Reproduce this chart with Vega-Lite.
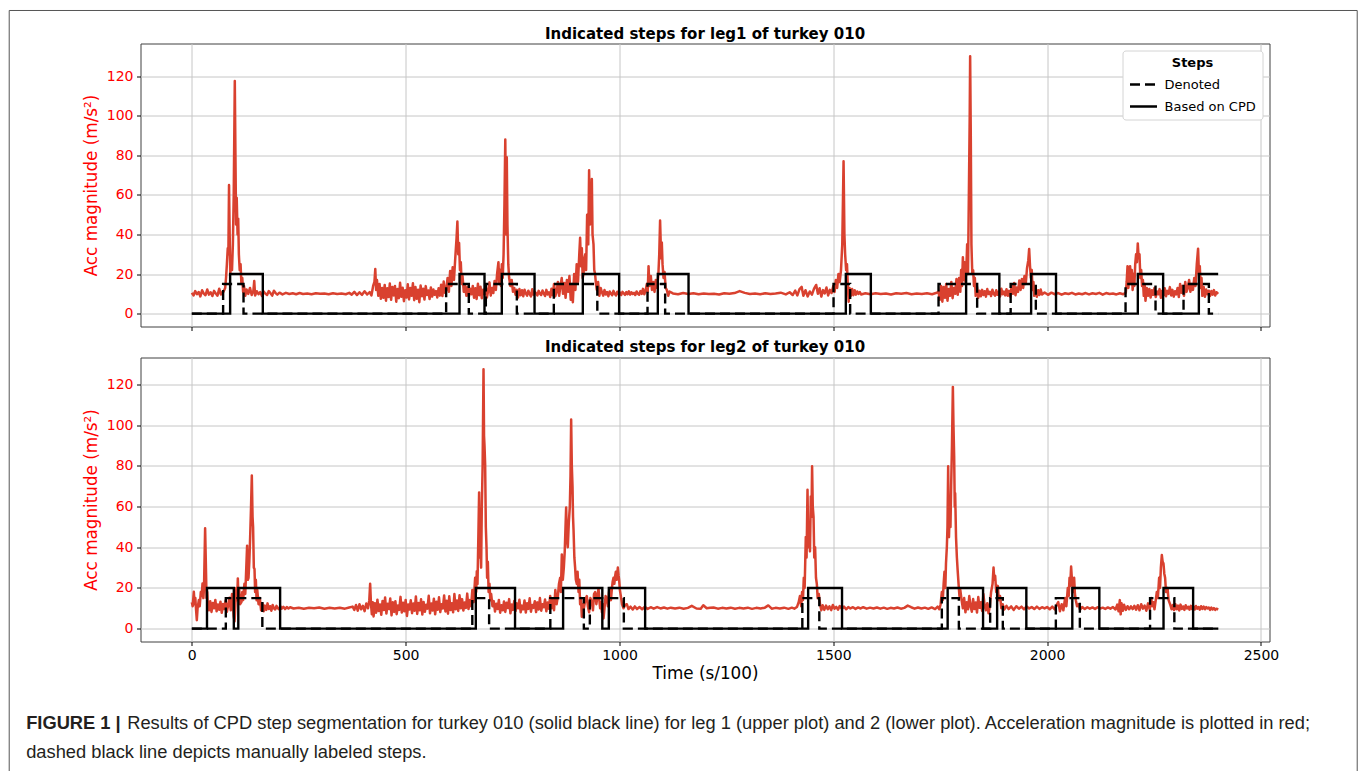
{
  "$schema": "https://vega.github.io/schema/vega-lite/v6.json",
  "background": "white",
  "padding": {"left": 7.5, "top": 8.5, "right": 0, "bottom": 0},
  "autosize": {"type": "pad"},
  "bounds": "flush",
  "spacing": 31,
  "datasets": {
    "leg1_steps": [
      {"series": "Based on CPD", "time": 0, "value": 0},
      {"series": "Based on CPD", "time": 89.6, "value": 20},
      {"series": "Based on CPD", "time": 166, "value": 0},
      {"series": "Based on CPD", "time": 626, "value": 20},
      {"series": "Based on CPD", "time": 684.4, "value": 0},
      {"series": "Based on CPD", "time": 724.9, "value": 20},
      {"series": "Based on CPD", "time": 801.4, "value": 0},
      {"series": "Based on CPD", "time": 914.3, "value": 20},
      {"series": "Based on CPD", "time": 999.2, "value": 0},
      {"series": "Based on CPD", "time": 1089.7, "value": 20},
      {"series": "Based on CPD", "time": 1161.5, "value": 0},
      {"series": "Based on CPD", "time": 1529.3, "value": 20},
      {"series": "Based on CPD", "time": 1587.8, "value": 0},
      {"series": "Based on CPD", "time": 1810.6, "value": 20},
      {"series": "Based on CPD", "time": 1888.3, "value": 0},
      {"series": "Based on CPD", "time": 1962.6, "value": 20},
      {"series": "Based on CPD", "time": 2020.8, "value": 0},
      {"series": "Based on CPD", "time": 2212.1, "value": 20},
      {"series": "Based on CPD", "time": 2271.3, "value": 0},
      {"series": "Based on CPD", "time": 2354.8, "value": 20},
      {"series": "Based on CPD", "time": 2400, "value": 20},
      {"series": "Denoted", "time": 0, "value": 0},
      {"series": "Denoted", "time": 73.2, "value": 15},
      {"series": "Denoted", "time": 120.9, "value": 0},
      {"series": "Denoted", "time": 594.7, "value": 15},
      {"series": "Denoted", "time": 647.7, "value": 0},
      {"series": "Denoted", "time": 687.5, "value": 15},
      {"series": "Denoted", "time": 760, "value": 0},
      {"series": "Denoted", "time": 846.5, "value": 15},
      {"series": "Denoted", "time": 948.2, "value": 0},
      {"series": "Denoted", "time": 1065.6, "value": 15},
      {"series": "Denoted", "time": 1106.8, "value": 0},
      {"series": "Denoted", "time": 1500.6, "value": 15},
      {"series": "Denoted", "time": 1539.4, "value": 0},
      {"series": "Denoted", "time": 1746.1, "value": 15},
      {"series": "Denoted", "time": 1836.4, "value": 0},
      {"series": "Denoted", "time": 1914.7, "value": 15},
      {"series": "Denoted", "time": 1973.6, "value": 0},
      {"series": "Denoted", "time": 2183.4, "value": 15},
      {"series": "Denoted", "time": 2253.5, "value": 0},
      {"series": "Denoted", "time": 2319, "value": 15},
      {"series": "Denoted", "time": 2378.2, "value": 0},
      {"series": "Denoted", "time": 2400, "value": 0}
    ],
    "leg2_steps": [
      {"series": "Based on CPD", "time": 0, "value": 0},
      {"series": "Based on CPD", "time": 35.5, "value": 20},
      {"series": "Based on CPD", "time": 98.2, "value": 0},
      {"series": "Based on CPD", "time": 108.7, "value": 20},
      {"series": "Based on CPD", "time": 206.5, "value": 0},
      {"series": "Based on CPD", "time": 664.1, "value": 20},
      {"series": "Based on CPD", "time": 755.8, "value": 0},
      {"series": "Based on CPD", "time": 868.2, "value": 20},
      {"series": "Based on CPD", "time": 959.9, "value": 0},
      {"series": "Based on CPD", "time": 975.1, "value": 20},
      {"series": "Based on CPD", "time": 1060, "value": 0},
      {"series": "Based on CPD", "time": 1441.2, "value": 20},
      {"series": "Based on CPD", "time": 1520.4, "value": 0},
      {"series": "Based on CPD", "time": 1767.4, "value": 20},
      {"series": "Based on CPD", "time": 1850.2, "value": 0},
      {"series": "Based on CPD", "time": 1883.1, "value": 20},
      {"series": "Based on CPD", "time": 1951.4, "value": 0},
      {"series": "Based on CPD", "time": 2058.9, "value": 20},
      {"series": "Based on CPD", "time": 2122.1, "value": 0},
      {"series": "Based on CPD", "time": 2272.2, "value": 20},
      {"series": "Based on CPD", "time": 2341.4, "value": 0},
      {"series": "Based on CPD", "time": 2400, "value": 0},
      {"series": "Denoted", "time": 0, "value": 0},
      {"series": "Denoted", "time": 79.5, "value": 15},
      {"series": "Denoted", "time": 164.9, "value": 0},
      {"series": "Denoted", "time": 655.9, "value": 15},
      {"series": "Denoted", "time": 695.2, "value": 0},
      {"series": "Denoted", "time": 838.3, "value": 15},
      {"series": "Denoted", "time": 916.7, "value": 0},
      {"series": "Denoted", "time": 930.7, "value": 15},
      {"series": "Denoted", "time": 1010.2, "value": 0},
      {"series": "Denoted", "time": 1427.6, "value": 15},
      {"series": "Denoted", "time": 1467.3, "value": 0},
      {"series": "Denoted", "time": 1753.8, "value": 15},
      {"series": "Denoted", "time": 1793.6, "value": 0},
      {"series": "Denoted", "time": 1866.8, "value": 15},
      {"series": "Denoted", "time": 1896.4, "value": 0},
      {"series": "Denoted", "time": 2020.4, "value": 15},
      {"series": "Denoted", "time": 2076.5, "value": 0},
      {"series": "Denoted", "time": 2240.7, "value": 15},
      {"series": "Denoted", "time": 2297.5, "value": 0},
      {"series": "Denoted", "time": 2400, "value": 0}
    ],
    "leg1_acc": [
      {"time":0,"acc":10.5},{"time":4,"acc":9.2},{"time":8,"acc":11.4},{"time":12,"acc":9.8},{"time":16,"acc":10.9},{"time":20,"acc":8.7},{"time":24,"acc":11.8},{"time":28,"acc":10.1},{"time":32,"acc":9.3},{"time":36,"acc":12.2},{"time":40,"acc":9.6},{"time":44,"acc":10.8},{"time":48,"acc":8.9},{"time":52,"acc":11.5},{"time":56,"acc":10.2},{"time":60,"acc":9.1},{"time":64,"acc":12.6},{"time":68,"acc":9.7},{"time":72,"acc":10.9},
      {"time":74,"acc":11},{"time":78,"acc":13},{"time":80,"acc":18},{"time":82,"acc":25},{"time":84,"acc":33},{"time":85.5,"acc":30},{"time":87,"acc":65},{"time":88.5,"acc":40},{"time":90,"acc":20},{"time":92,"acc":28},{"time":94,"acc":22},{"time":96,"acc":35},{"time":98,"acc":60},{"time":100.5,"acc":117.5},{"time":102,"acc":80},{"time":103.5,"acc":45},{"time":105,"acc":58.5},{"time":107,"acc":40},{"time":108.5,"acc":48},{"time":110,"acc":30},{"time":112,"acc":22},{"time":114,"acc":25},{"time":116,"acc":15},{"time":118,"acc":18},{"time":120,"acc":11},{"time":122,"acc":14},
      {"time":125,"acc":9},{"time":128,"acc":12.2},{"time":132,"acc":10},{"time":136,"acc":13},{"time":140,"acc":9.4},{"time":144,"acc":11.6},{"time":146,"acc":16.5},{"time":148,"acc":9.2},{"time":152,"acc":11.3},{"time":156,"acc":9.8},{"time":160,"acc":10.9},{"time":164,"acc":8.9},{"time":168,"acc":11.2},{"time":172,"acc":10.1},{"time":176,"acc":9.4},{"time":180,"acc":11.4},{"time":184,"acc":10.3},{"time":188,"acc":9.1},{"time":192,"acc":11.6},{"time":196,"acc":10.4},{"time":200,"acc":9.6},
      {"time":205,"acc":10.6},{"time":212,"acc":9.7},{"time":220,"acc":10.5},{"time":228,"acc":9.9},{"time":236,"acc":10.3},{"time":244,"acc":9.8},{"time":252,"acc":10.4},{"time":260,"acc":9.9},{"time":270,"acc":10.2},{"time":280,"acc":9.8},{"time":290,"acc":10.3},{"time":300,"acc":10},{"time":310,"acc":10.2},{"time":320,"acc":9.8},{"time":330,"acc":10.3},{"time":340,"acc":9.9},{"time":350,"acc":10.2},{"time":360,"acc":9.8},{"time":368,"acc":10.5},{"time":374,"acc":9.6},{"time":380,"acc":11},{"time":386,"acc":9.4},{"time":392,"acc":10.8},{"time":398,"acc":9.5},{"time":404,"acc":11.3},{"time":410,"acc":9.7},{"time":416,"acc":10.9},{"time":420,"acc":9.2},{"time":424,"acc":14},{"time":427,"acc":16},{"time":429,"acc":22.5},{"time":431,"acc":12},{"time":433,"acc":17},{"time":436,"acc":9},{"time":439,"acc":15},{"time":442,"acc":7.5},{"time":445,"acc":13},
      {"time":448,"acc":8},{"time":451,"acc":14.5},{"time":454,"acc":6.5},{"time":457,"acc":12.8},{"time":460,"acc":8.4},{"time":463,"acc":15.2},{"time":466,"acc":7},{"time":469,"acc":13.5},{"time":472,"acc":9.2},{"time":475,"acc":14},{"time":478,"acc":6},{"time":481,"acc":12.4},{"time":484,"acc":7.8},{"time":487,"acc":15.6},{"time":490,"acc":8.5},{"time":493,"acc":13.1},{"time":496,"acc":6.3},{"time":499,"acc":11.8},{"time":502,"acc":8.1},{"time":505,"acc":14.8},{"time":508,"acc":7.2},{"time":511,"acc":12.9},{"time":514,"acc":9},{"time":517,"acc":15.3},{"time":520,"acc":6.8},{"time":523,"acc":13.4},{"time":526,"acc":7.5},{"time":529,"acc":12.1},{"time":532,"acc":5.8},{"time":535,"acc":14.2},{"time":538,"acc":8.8},{"time":541,"acc":12.6},{"time":544,"acc":7.1},{"time":547,"acc":13.9},{"time":550,"acc":9.4},{"time":553,"acc":11.7},{"time":556,"acc":7.4},{"time":559,"acc":13.2},{"time":562,"acc":8.6},{"time":565,"acc":12.2},{"time":568,"acc":9.5},{"time":571,"acc":11.4},{"time":574,"acc":8.2},{"time":577,"acc":12.8},{"time":580,"acc":9.1},{"time":583,"acc":14.6},{"time":586,"acc":8.9},{"time":589,"acc":16.2},{"time":592,"acc":10.5},
      {"time":595,"acc":12},{"time":598,"acc":18},{"time":601,"acc":11},{"time":604,"acc":21.5},{"time":607,"acc":14},{"time":610,"acc":23.5},{"time":613,"acc":17},{"time":616,"acc":28},{"time":619,"acc":38},{"time":621,"acc":46.5},{"time":623,"acc":30},{"time":625,"acc":35.7},{"time":627,"acc":22},{"time":629,"acc":26},{"time":631,"acc":15},{"time":633,"acc":19},{"time":636,"acc":11},{"time":639,"acc":14},{"time":642,"acc":9},{"time":645,"acc":13.5},{"time":648,"acc":8.5},{"time":651,"acc":12.6},{"time":654,"acc":9.8},
      {"time":657,"acc":14},{"time":660,"acc":8},{"time":663,"acc":12.8},{"time":666,"acc":7.4},{"time":669,"acc":15.1},{"time":672,"acc":9.3},{"time":675,"acc":13.6},{"time":678,"acc":7.8},{"time":681,"acc":12.1},{"time":684,"acc":9.9},{"time":687,"acc":14.7},{"time":690,"acc":8.2},{"time":693,"acc":11.5},{"time":696,"acc":15.8},{"time":699,"acc":9.1},{"time":702,"acc":13},{"time":705,"acc":10.4},{"time":708,"acc":16.5},{"time":711,"acc":12},{"time":714,"acc":20.5},{"time":717,"acc":26},{"time":719,"acc":15},{"time":721,"acc":22},{"time":723,"acc":14},{"time":725,"acc":25},{"time":727,"acc":18},
      {"time":729,"acc":30},{"time":731,"acc":55},{"time":733,"acc":88},{"time":735,"acc":40},{"time":736.5,"acc":79},{"time":738,"acc":45},{"time":740,"acc":25},{"time":742,"acc":18},{"time":745,"acc":14},{"time":748,"acc":17},{"time":751,"acc":11},{"time":754,"acc":13},{"time":757,"acc":9.5},{"time":760,"acc":12},
      {"time":763,"acc":8.2},{"time":766,"acc":12.4},{"time":769,"acc":9.3},{"time":772,"acc":11.8},{"time":775,"acc":8.8},{"time":778,"acc":12.1},{"time":781,"acc":10.2},{"time":784,"acc":9.1},{"time":787,"acc":11.6},{"time":790,"acc":10},{"time":793,"acc":8.7},{"time":796,"acc":12.3},{"time":799,"acc":9.6},{"time":802,"acc":11.1},{"time":805,"acc":10.3},{"time":808,"acc":9.2},{"time":811,"acc":11.5},{"time":814,"acc":10.1},{"time":817,"acc":9.4},{"time":820,"acc":11.7},{"time":823,"acc":10.2},{"time":826,"acc":8.9},{"time":829,"acc":12},{"time":832,"acc":9.7},{"time":835,"acc":10.8},{"time":838,"acc":8.4},{"time":841,"acc":12.6},{"time":844,"acc":9.3},{"time":847,"acc":15},{"time":850,"acc":8.8},
      {"time":853,"acc":11},{"time":856,"acc":16},{"time":859,"acc":9},{"time":862,"acc":14},{"time":865,"acc":18},{"time":868,"acc":10},{"time":871,"acc":15.5},{"time":874,"acc":8},{"time":877,"acc":17},{"time":880,"acc":11},{"time":883,"acc":19},{"time":886,"acc":7},{"time":889,"acc":15},{"time":891,"acc":5.8},{"time":894,"acc":20},{"time":897,"acc":12},{"time":900,"acc":25},{"time":903,"acc":16},{"time":906,"acc":30},{"time":908,"acc":38.3},{"time":910,"acc":24},{"time":912,"acc":33},{"time":914,"acc":18},{"time":916,"acc":20},{"time":918,"acc":28},{"time":920,"acc":30},{"time":922,"acc":22},{"time":924.4,"acc":50},{"time":927,"acc":35},{"time":929,"acc":72.5},{"time":931,"acc":45},{"time":932.3,"acc":55},{"time":934,"acc":48},{"time":935.4,"acc":68},{"time":937,"acc":40},{"time":939.3,"acc":35},{"time":941,"acc":22},{"time":943,"acc":20},{"time":945,"acc":15},{"time":947,"acc":12},{"time":950,"acc":16},{"time":953,"acc":9},{"time":956,"acc":13},
      {"time":959,"acc":10.8},{"time":962,"acc":9.1},{"time":965,"acc":11.9},{"time":968,"acc":9.7},{"time":971,"acc":10.9},{"time":974,"acc":8.8},{"time":977,"acc":11.2},{"time":980,"acc":10.1},{"time":983,"acc":9.3},{"time":986,"acc":11.5},{"time":989,"acc":10},{"time":992,"acc":9.2},{"time":995,"acc":11.1},{"time":998,"acc":9.9},{"time":1001,"acc":10.7},{"time":1004,"acc":9.4},{"time":1007,"acc":11},{"time":1010,"acc":10.2},{"time":1013,"acc":9.5},{"time":1016,"acc":10.9},{"time":1019,"acc":9.8},{"time":1022,"acc":11.3},{"time":1025,"acc":9.6},{"time":1028,"acc":10.8},{"time":1031,"acc":9.9},{"time":1034,"acc":10.5},{"time":1037,"acc":9.4},{"time":1040,"acc":11.2},{"time":1043,"acc":10.1},{"time":1046,"acc":9.6},{"time":1049,"acc":11.4},{"time":1052,"acc":10},{"time":1055,"acc":12.5},{"time":1058,"acc":9.8},
      {"time":1061,"acc":11.5},{"time":1064,"acc":15},{"time":1066,"acc":11},{"time":1068,"acc":24},{"time":1070,"acc":14},{"time":1073.3,"acc":19},{"time":1076,"acc":12},{"time":1079,"acc":16},{"time":1082,"acc":11},{"time":1085,"acc":17},{"time":1088,"acc":13},{"time":1091,"acc":20},{"time":1093,"acc":30},{"time":1095,"acc":47},{"time":1097.4,"acc":28},{"time":1099,"acc":36},{"time":1100.7,"acc":25},{"time":1103,"acc":18},{"time":1105.4,"acc":21},{"time":1108,"acc":13},{"time":1110.7,"acc":12},{"time":1114,"acc":9},{"time":1117,"acc":11.2},
      {"time":1125,"acc":10.2},{"time":1137,"acc":9.8},{"time":1149,"acc":10.4},{"time":1161,"acc":9.9},{"time":1173,"acc":10.3},{"time":1185,"acc":9.8},{"time":1197,"acc":10.2},{"time":1209,"acc":9.9},{"time":1221,"acc":10.1},{"time":1233,"acc":9.7},{"time":1245,"acc":10.3},{"time":1257,"acc":10},{"time":1269,"acc":10.4},{"time":1281,"acc":11.4},{"time":1293,"acc":10.5},{"time":1305,"acc":9.9},{"time":1317,"acc":10.2},{"time":1329,"acc":9.8},{"time":1341,"acc":10.3},{"time":1353,"acc":9.9},{"time":1365,"acc":10.2},
      {"time":1377,"acc":10.6},{"time":1389,"acc":9.7},{"time":1398,"acc":10.8},{"time":1405,"acc":9.4},{"time":1411,"acc":11.6},{"time":1416,"acc":9.2},{"time":1421,"acc":12.4},{"time":1426,"acc":13.5},{"time":1430,"acc":9},{"time":1435,"acc":11.8},{"time":1440,"acc":8.7},{"time":1445,"acc":11.2},{"time":1450,"acc":9.6},{"time":1455,"acc":12.6},{"time":1460,"acc":14.5},{"time":1464,"acc":10},{"time":1468,"acc":12.8},{"time":1472,"acc":8.6},{"time":1476,"acc":11.9},{"time":1480,"acc":10.2},{"time":1484,"acc":13.2},{"time":1488,"acc":9.2},{"time":1492,"acc":12},{"time":1496,"acc":10.4},{"time":1500,"acc":14},{"time":1503,"acc":11},{"time":1506,"acc":17},{"time":1509,"acc":13},{"time":1512,"acc":20},
      {"time":1515,"acc":16},{"time":1518,"acc":22},{"time":1521,"acc":35},{"time":1524,"acc":77},{"time":1526,"acc":40},{"time":1527.7,"acc":30},{"time":1530,"acc":22},{"time":1532,"acc":25},{"time":1534,"acc":14},{"time":1536,"acc":6},{"time":1538,"acc":13},{"time":1541,"acc":9},{"time":1544,"acc":12.5},{"time":1547,"acc":9.3},{"time":1550,"acc":11.8},{"time":1553,"acc":9.6},{"time":1556,"acc":11.2},{"time":1559,"acc":10},{"time":1562,"acc":10.9},{"time":1565,"acc":9.7},
      {"time":1575,"acc":10.3},{"time":1587,"acc":9.8},{"time":1599,"acc":10.3},{"time":1611,"acc":9.9},{"time":1623,"acc":10.2},{"time":1635,"acc":9.7},{"time":1647,"acc":10.3},{"time":1659,"acc":10},{"time":1671,"acc":10.4},{"time":1683,"acc":9.8},{"time":1695,"acc":10.2},{"time":1707,"acc":9.9},{"time":1719,"acc":10.3},{"time":1731,"acc":9.8},{"time":1740,"acc":10.4},
      {"time":1746,"acc":11},{"time":1749,"acc":7},{"time":1752,"acc":14},{"time":1755,"acc":6},{"time":1758,"acc":13.5},{"time":1761,"acc":8},{"time":1764,"acc":15},{"time":1767,"acc":6.5},{"time":1770,"acc":12.5},{"time":1773,"acc":9},{"time":1776,"acc":16},{"time":1779,"acc":7.8},{"time":1782,"acc":13},{"time":1785,"acc":10},{"time":1788,"acc":17.5},{"time":1791,"acc":9.5},{"time":1794,"acc":18},{"time":1797,"acc":11},{"time":1799,"acc":22},{"time":1801,"acc":14},{"time":1803,"acc":28.5},{"time":1805,"acc":17},{"time":1807,"acc":26},{"time":1809,"acc":16},{"time":1811,"acc":22},{"time":1813,"acc":35},{"time":1815,"acc":20},{"time":1817,"acc":60},{"time":1819,"acc":100},{"time":1820,"acc":130},{"time":1821.5,"acc":90},{"time":1823,"acc":35},{"time":1825,"acc":20},{"time":1827,"acc":22},{"time":1829,"acc":14},{"time":1831,"acc":18},{"time":1833,"acc":9},{"time":1836,"acc":13.5},{"time":1839,"acc":8},
      {"time":1842,"acc":11.6},{"time":1845,"acc":8.8},{"time":1848,"acc":12},{"time":1851,"acc":9.4},{"time":1854,"acc":11.3},{"time":1857,"acc":8.6},{"time":1860,"acc":12.4},{"time":1863,"acc":9.9},{"time":1866,"acc":11},{"time":1869,"acc":8.9},{"time":1872,"acc":12.1},{"time":1875,"acc":10},{"time":1878,"acc":9.1},{"time":1881,"acc":11.8},{"time":1884,"acc":9.5},{"time":1887,"acc":11.2},{"time":1890,"acc":8.7},{"time":1893,"acc":12.6},{"time":1896,"acc":9.8},{"time":1899,"acc":11.1},{"time":1902,"acc":9.2},{"time":1905,"acc":12.3},{"time":1908,"acc":9},{"time":1911,"acc":11.5},{"time":1914,"acc":8.5},{"time":1917,"acc":14},{"time":1920,"acc":10},{"time":1923,"acc":15.5},{"time":1926,"acc":9.3},{"time":1929,"acc":13.2},{"time":1932,"acc":11},{"time":1935,"acc":16.8},{"time":1938,"acc":12},{"time":1941,"acc":17.5},{"time":1944,"acc":13},{"time":1947,"acc":19},{"time":1950,"acc":15},{"time":1953,"acc":23},{"time":1956,"acc":27},{"time":1958,"acc":32.7},{"time":1960,"acc":24},{"time":1962,"acc":18},{"time":1964,"acc":22},{"time":1966,"acc":12},{"time":1968,"acc":16},{"time":1970,"acc":9},{"time":1973,"acc":13},{"time":1976,"acc":8.5},{"time":1979,"acc":11.8},{"time":1982,"acc":9.4},{"time":1985,"acc":12.2},{"time":1988,"acc":9.7},
      {"time":1994,"acc":10.7},{"time":2002,"acc":9.5},{"time":2010,"acc":10.6},{"time":2018,"acc":9.8},{"time":2026,"acc":10.4},{"time":2034,"acc":9.6},{"time":2042,"acc":10.3},{"time":2050,"acc":9.9},{"time":2058,"acc":10.5},{"time":2066,"acc":9.7},{"time":2074,"acc":10.2},{"time":2082,"acc":9.8},{"time":2090,"acc":10.4},{"time":2098,"acc":9.7},{"time":2106,"acc":10.3},{"time":2114,"acc":9.9},{"time":2122,"acc":10.5},{"time":2130,"acc":9.6},{"time":2138,"acc":10.4},{"time":2146,"acc":9.9},{"time":2154,"acc":10.2},{"time":2162,"acc":9.7},{"time":2170,"acc":10.3},{"time":2178,"acc":9.8},
      {"time":2184,"acc":10.6},{"time":2186,"acc":16},{"time":2188,"acc":24},{"time":2190,"acc":13},{"time":2192,"acc":20},{"time":2194,"acc":24},{"time":2196,"acc":15},{"time":2198,"acc":22},{"time":2200,"acc":12},{"time":2202,"acc":20},{"time":2204,"acc":14},{"time":2206,"acc":25},{"time":2208,"acc":30},{"time":2210,"acc":26},{"time":2212,"acc":35.5},{"time":2214,"acc":28},{"time":2216,"acc":30},{"time":2218,"acc":18},{"time":2220,"acc":22},{"time":2222,"acc":14},{"time":2224,"acc":17},{"time":2226,"acc":9},{"time":2228,"acc":15},{"time":2230,"acc":6.5},{"time":2233,"acc":13},
      {"time":2236,"acc":9},{"time":2239,"acc":12.5},{"time":2242,"acc":8.1},{"time":2245,"acc":11.8},{"time":2248,"acc":9.5},{"time":2251,"acc":13},{"time":2254,"acc":8.4},{"time":2257,"acc":11.2},{"time":2260,"acc":9.8},{"time":2263,"acc":12.4},{"time":2266,"acc":8},{"time":2269,"acc":11.6},{"time":2272,"acc":9.3},{"time":2275,"acc":12.8},{"time":2278,"acc":8.8},{"time":2281,"acc":11.5},{"time":2284,"acc":10},{"time":2287,"acc":13.4},{"time":2290,"acc":9.2},{"time":2293,"acc":12},{"time":2296,"acc":8.6},{"time":2299,"acc":11.3},{"time":2302,"acc":9.7},{"time":2305,"acc":13},{"time":2308,"acc":8.4},{"time":2311,"acc":15},{"time":2314,"acc":10.5},{"time":2317,"acc":14},{"time":2320,"acc":9},{"time":2323,"acc":16},{"time":2326,"acc":11},
      {"time":2329,"acc":13},{"time":2332,"acc":17},{"time":2335,"acc":11},{"time":2338,"acc":15},{"time":2341,"acc":12},{"time":2344,"acc":18},{"time":2347,"acc":14},{"time":2350,"acc":25},{"time":2353,"acc":32.8},{"time":2355,"acc":20},{"time":2357,"acc":24},{"time":2359,"acc":13},{"time":2361,"acc":18},{"time":2363,"acc":9},{"time":2366,"acc":13.5},{"time":2369,"acc":8.5},{"time":2372,"acc":12.2},{"time":2375,"acc":9.8},{"time":2378,"acc":11.6},{"time":2381,"acc":8.9},{"time":2384,"acc":11.4},{"time":2387,"acc":9.6},{"time":2390,"acc":11.9},{"time":2393,"acc":9.2},{"time":2396,"acc":10.8},{"time":2400,"acc":10}
    ],
    "leg2_acc": [
      {"time":0,"acc":13},{"time":2,"acc":11},{"time":4.7,"acc":18.1},{"time":6.5,"acc":12},{"time":8.2,"acc":15},{"time":10,"acc":9},{"time":11.7,"acc":4.1},{"time":13.5,"acc":10},{"time":16.4,"acc":14},{"time":18.5,"acc":11},{"time":21,"acc":18},{"time":23,"acc":16},{"time":25,"acc":22.2},{"time":27,"acc":15},{"time":28.5,"acc":20},{"time":31.1,"acc":49.4},{"time":33,"acc":30},{"time":34.4,"acc":15},{"time":36,"acc":18},{"time":37.4,"acc":12},
      {"time":40,"acc":9},{"time":43,"acc":13.5},{"time":46,"acc":8.2},{"time":49,"acc":12.6},{"time":52,"acc":10},{"time":55,"acc":14.1},{"time":58,"acc":8.5},{"time":61,"acc":11.8},{"time":64,"acc":9.3},{"time":67,"acc":13.2},{"time":70,"acc":7.8},{"time":73,"acc":12.1},{"time":76,"acc":9.6},{"time":79,"acc":13.8},{"time":82,"acc":8.3},{"time":85,"acc":11.5},{"time":88,"acc":15.2},{"time":91,"acc":9},{"time":94,"acc":17},{"time":96,"acc":12},
      {"time":98,"acc":6},{"time":100,"acc":3.5},{"time":102,"acc":12},{"time":104,"acc":20},{"time":106,"acc":14},{"time":107.6,"acc":24.7},{"time":109,"acc":16},{"time":111,"acc":19},{"time":113,"acc":12},
      {"time":116,"acc":13},{"time":118,"acc":18},{"time":120,"acc":14},{"time":123,"acc":22},{"time":125,"acc":17},{"time":127,"acc":28},{"time":129.3,"acc":40.8},{"time":131,"acc":24},{"time":132.6,"acc":25},{"time":134.5,"acc":33},{"time":136.4,"acc":45},{"time":138.5,"acc":60},{"time":140.3,"acc":75.3},{"time":142,"acc":55},{"time":143.3,"acc":50},{"time":145,"acc":30},{"time":146.6,"acc":29.3},{"time":148,"acc":18},{"time":149.7,"acc":24},{"time":151.5,"acc":14},{"time":153,"acc":19},{"time":156,"acc":12},{"time":159,"acc":15},{"time":162,"acc":9},{"time":165,"acc":12.5},{"time":168,"acc":8.5},
      {"time":171,"acc":11.3},{"time":174,"acc":9.2},{"time":177,"acc":12.4},{"time":180,"acc":9.6},{"time":183,"acc":11},{"time":186,"acc":8.8},{"time":189,"acc":11.6},{"time":192,"acc":10},{"time":195,"acc":9.4},{"time":198,"acc":11.2},{"time":201,"acc":10.1},{"time":204,"acc":9.5},{"time":207,"acc":11},{"time":210,"acc":9.8},{"time":214,"acc":10.7},{"time":218,"acc":9.6},{"time":222,"acc":10.6},{"time":226,"acc":9.9},{"time":230,"acc":10.5},
      {"time":238,"acc":9.9},{"time":250,"acc":10.3},{"time":262,"acc":9.8},{"time":274,"acc":10.2},{"time":286,"acc":10},{"time":298,"acc":10.4},{"time":310,"acc":9.8},{"time":322,"acc":10.2},{"time":334,"acc":9.9},{"time":346,"acc":10.3},{"time":358,"acc":9.8},{"time":368,"acc":10.4},
      {"time":376,"acc":10.8},{"time":380,"acc":9.2},{"time":384,"acc":11.6},{"time":388,"acc":8.8},{"time":392,"acc":12},{"time":396,"acc":9.5},{"time":400,"acc":11.2},{"time":404,"acc":8.6},{"time":408,"acc":12.3},{"time":412,"acc":10},{"time":415,"acc":14},{"time":417,"acc":22},{"time":419,"acc":12},{"time":421,"acc":7},{"time":423,"acc":13},{"time":425,"acc":6},
      {"time":428,"acc":12.5},{"time":431,"acc":7.8},{"time":434,"acc":14.2},{"time":437,"acc":8.6},{"time":440,"acc":11.9},{"time":443,"acc":6.8},{"time":446,"acc":13.6},{"time":449,"acc":9.1},{"time":452,"acc":15.3},{"time":455,"acc":7.4},{"time":458,"acc":12.2},{"time":461,"acc":9.6},{"time":464,"acc":14.8},{"time":467,"acc":6.5},{"time":470,"acc":12.9},{"time":473,"acc":8.2},{"time":476,"acc":13.5},{"time":479,"acc":7.1},{"time":482,"acc":11.4},{"time":485,"acc":9.2},{"time":488,"acc":15.6},{"time":491,"acc":7.9},{"time":494,"acc":12.7},{"time":497,"acc":8.5},{"time":500,"acc":14.1},{"time":503,"acc":6.2},{"time":506,"acc":11.8},{"time":509,"acc":9.4},{"time":512,"acc":13.9},{"time":515,"acc":7.6},{"time":518,"acc":12.3},{"time":521,"acc":8.8},{"time":524,"acc":15.8},{"time":527,"acc":7.2},{"time":530,"acc":12.6},{"time":533,"acc":9},{"time":536,"acc":14.4},{"time":539,"acc":6.9},{"time":542,"acc":13.1},{"time":545,"acc":8.3},{"time":548,"acc":11.7},{"time":551,"acc":9.8},{"time":554,"acc":16.1},{"time":557,"acc":7.5},{"time":560,"acc":12.4},{"time":563,"acc":8.9},{"time":566,"acc":14.7},{"time":569,"acc":7},{"time":572,"acc":13.2},{"time":575,"acc":9.3},{"time":578,"acc":15.4},{"time":581,"acc":8.1},{"time":584,"acc":12},{"time":587,"acc":9.9},{"time":590,"acc":16.3},{"time":593,"acc":8.4},{"time":596,"acc":13.7},{"time":599,"acc":7.3},{"time":602,"acc":15.9},{"time":605,"acc":9.1},{"time":608,"acc":12.5},{"time":611,"acc":8},{"time":614,"acc":17},{"time":617,"acc":9.5},{"time":620,"acc":13.8},{"time":623,"acc":8.7},{"time":626,"acc":16.4},{"time":629,"acc":10},{"time":632,"acc":14.5},{"time":635,"acc":8.9},{"time":638,"acc":12.8},{"time":641,"acc":10.2},{"time":644,"acc":17.2},{"time":647,"acc":9.6},{"time":650,"acc":14},
      {"time":653,"acc":11},{"time":656,"acc":19},{"time":659,"acc":13},{"time":662.5,"acc":25},{"time":665,"acc":18},{"time":666.4,"acc":28.2},{"time":668,"acc":22},{"time":670,"acc":45},{"time":671.8,"acc":67},{"time":673.5,"acc":35},{"time":675,"acc":40},{"time":676.5,"acc":30},{"time":678.1,"acc":60},{"time":680,"acc":80},{"time":682.1,"acc":127.6},{"time":683.3,"acc":95},{"time":684.4,"acc":90},{"time":685.9,"acc":80.7},{"time":687.5,"acc":50},{"time":689.1,"acc":40},{"time":690.5,"acc":25},{"time":692.2,"acc":32.9},{"time":694,"acc":18},{"time":696,"acc":22},{"time":698,"acc":14},{"time":700,"acc":17},{"time":703,"acc":11},
      {"time":706,"acc":13.5},{"time":709,"acc":8.4},{"time":712,"acc":12.2},{"time":715,"acc":9.6},{"time":718,"acc":14.1},{"time":721,"acc":7.8},{"time":724,"acc":11.5},{"time":727,"acc":9},{"time":730,"acc":13.3},{"time":733,"acc":8.2},{"time":736,"acc":12.7},{"time":739,"acc":10.1},{"time":742,"acc":14.5},{"time":745,"acc":7.5},{"time":748,"acc":11.9},{"time":751,"acc":9.2},{"time":754,"acc":13.6},{"time":757,"acc":8.6},{"time":760,"acc":12.4},{"time":763,"acc":10},{"time":766,"acc":14.2},{"time":769,"acc":8},{"time":772,"acc":11.3},{"time":775,"acc":9.5},{"time":778,"acc":13.8},{"time":781,"acc":7.9},{"time":784,"acc":12.5},{"time":787,"acc":9.7},{"time":790,"acc":14.9},{"time":793,"acc":8.3},{"time":796,"acc":11.6},{"time":799,"acc":10.2},{"time":802,"acc":13.4},{"time":805,"acc":8.1},{"time":808,"acc":12.9},{"time":811,"acc":9.4},{"time":814,"acc":15},{"time":817,"acc":8.8},{"time":820,"acc":12},{"time":823,"acc":10.5},{"time":826,"acc":14.3},{"time":829,"acc":8.5},{"time":832,"acc":12.8},{"time":835,"acc":9.8},{"time":838,"acc":16},{"time":841,"acc":10},{"time":844,"acc":14},{"time":847,"acc":9},
      {"time":850,"acc":19},{"time":853,"acc":12},{"time":856,"acc":16},{"time":858.5,"acc":22},{"time":861.3,"acc":25},{"time":863,"acc":18},{"time":865.2,"acc":36.5},{"time":867.5,"acc":24},{"time":869.9,"acc":30},{"time":872,"acc":38},{"time":875.3,"acc":59.6},{"time":877,"acc":45},{"time":879.2,"acc":40},{"time":881.5,"acc":52},{"time":883.9,"acc":60},{"time":885.5,"acc":75},{"time":887,"acc":102.9},{"time":888.6,"acc":80},{"time":890.2,"acc":70},{"time":891.4,"acc":55},{"time":892.6,"acc":48.6},{"time":894.5,"acc":35},{"time":896.3,"acc":30},{"time":898,"acc":24},{"time":900.3,"acc":22},{"time":902,"acc":28},{"time":904.3,"acc":18},{"time":906,"acc":24},{"time":908,"acc":12},{"time":910,"acc":15},{"time":912,"acc":5.8},{"time":914,"acc":12},
      {"time":916,"acc":9},{"time":920,"acc":14},{"time":923.7,"acc":16},{"time":926,"acc":11},{"time":929,"acc":8},{"time":932,"acc":15},{"time":935.4,"acc":13},{"time":938,"acc":9},{"time":940.5,"acc":17},{"time":943.1,"acc":18},{"time":946,"acc":12},{"time":948.5,"acc":16},{"time":951,"acc":19.8},{"time":953,"acc":14},{"time":954.8,"acc":10},{"time":957,"acc":13},{"time":959,"acc":8},{"time":961,"acc":12},{"time":962.7,"acc":5},{"time":965,"acc":10},{"time":967.5,"acc":16},{"time":970.4,"acc":15},{"time":973,"acc":11},{"time":975.5,"acc":18},{"time":978.2,"acc":20},{"time":980,"acc":14},{"time":982,"acc":19},{"time":984,"acc":23},{"time":986.1,"acc":25},{"time":988,"acc":22},{"time":990,"acc":26},{"time":991.5,"acc":28},{"time":993.5,"acc":24},{"time":996.2,"acc":30},{"time":998,"acc":26},{"time":999.2,"acc":24},{"time":1001,"acc":19},{"time":1003.9,"acc":15},{"time":1006,"acc":12},{"time":1009.5,"acc":10},{"time":1013,"acc":11.5},{"time":1017.2,"acc":12},{"time":1021,"acc":9.6},
      {"time":1026,"acc":10.8},{"time":1031,"acc":9.4},{"time":1036,"acc":10.9},{"time":1041,"acc":9.6},{"time":1047,"acc":10.6},{"time":1053,"acc":9.5},{"time":1059,"acc":10.7},{"time":1066,"acc":9.7},{"time":1073,"acc":10.5},{"time":1080,"acc":9.8},{"time":1088,"acc":10.6},{"time":1096,"acc":9.9},{"time":1104,"acc":10.4},{"time":1112,"acc":9.8},{"time":1120,"acc":10.3},{"time":1130,"acc":9.9},{"time":1140,"acc":10.3},{"time":1150,"acc":9.8},{"time":1160,"acc":10.2},{"time":1169,"acc":11.2},{"time":1180,"acc":9.9},{"time":1190,"acc":9.8},{"time":1196,"acc":11.5},{"time":1204,"acc":10},{"time":1212,"acc":10.3},{"time":1220,"acc":10.4},{"time":1230,"acc":9.8},{"time":1240,"acc":10.2},{"time":1250,"acc":9.9},{"time":1260,"acc":10.3},{"time":1270,"acc":9.8},{"time":1280,"acc":10.2},{"time":1290,"acc":9.9},{"time":1300,"acc":10.3},{"time":1310,"acc":9.7},{"time":1320,"acc":10.2},{"time":1330,"acc":9.9},{"time":1340,"acc":10.3},{"time":1348,"acc":11.4},{"time":1356,"acc":9.8},{"time":1365,"acc":10.2},{"time":1375,"acc":9.9},{"time":1385,"acc":10.3},{"time":1395,"acc":9.7},{"time":1403,"acc":10.3},{"time":1409,"acc":9.8},{"time":1415,"acc":10.6},
      {"time":1419,"acc":13},{"time":1422,"acc":16},{"time":1425,"acc":11},{"time":1427,"acc":18},{"time":1429,"acc":14},{"time":1431,"acc":25},{"time":1433,"acc":20},{"time":1435.7,"acc":45},{"time":1437.5,"acc":35},{"time":1439.7,"acc":68.3},{"time":1441.5,"acc":40},{"time":1443.5,"acc":50},{"time":1445.5,"acc":38},{"time":1447.4,"acc":65},{"time":1449,"acc":55},{"time":1450.4,"acc":79.8},{"time":1452,"acc":60},{"time":1453.8,"acc":55},{"time":1455.5,"acc":35},{"time":1457.5,"acc":40},{"time":1459.5,"acc":25},{"time":1461.5,"acc":22},{"time":1463.5,"acc":15},{"time":1466,"acc":17},{"time":1469,"acc":12},{"time":1472,"acc":9},{"time":1475,"acc":11.5},
      {"time":1479,"acc":9.2},{"time":1483,"acc":11.3},{"time":1487,"acc":9.5},{"time":1491,"acc":10.9},{"time":1495,"acc":9.1},{"time":1499,"acc":11.6},{"time":1503,"acc":9.8},{"time":1507,"acc":10.7},{"time":1511,"acc":9.3},{"time":1515,"acc":11.1},{"time":1520,"acc":9.7},{"time":1525,"acc":10.8},{"time":1530,"acc":9.5},{"time":1535,"acc":10.6},{"time":1540,"acc":9.9},{"time":1546,"acc":10.5},{"time":1552,"acc":9.7},{"time":1558,"acc":10.4},{"time":1564,"acc":9.9},{"time":1570,"acc":10.5},{"time":1578,"acc":9.8},{"time":1586,"acc":10.3},{"time":1594,"acc":9.9},{"time":1602,"acc":10.4},{"time":1610,"acc":9.8},{"time":1618,"acc":10.3},{"time":1626,"acc":9.7},{"time":1634,"acc":10.2},{"time":1642,"acc":9.9},{"time":1650,"acc":10.4},{"time":1658,"acc":9.8},{"time":1666,"acc":10.2},{"time":1674,"acc":11.3},{"time":1682,"acc":10.5},{"time":1690,"acc":9.8},{"time":1698,"acc":10.4},{"time":1706,"acc":9.9},{"time":1714,"acc":10.3},{"time":1722,"acc":9.7},{"time":1730,"acc":10.4},{"time":1738,"acc":9.6},{"time":1744,"acc":10.8},{"time":1748,"acc":9.5},
      {"time":1751,"acc":12},{"time":1753.8,"acc":18},{"time":1756,"acc":14},{"time":1758,"acc":22},{"time":1760,"acc":28},{"time":1762,"acc":20},{"time":1763.5,"acc":32},{"time":1765.5,"acc":40},{"time":1767,"acc":50},{"time":1768.6,"acc":79.8},{"time":1770.5,"acc":45},{"time":1772.5,"acc":60},{"time":1774,"acc":50},{"time":1775.6,"acc":70},{"time":1777.5,"acc":90},{"time":1779.6,"acc":118.9},{"time":1781,"acc":100},{"time":1782.6,"acc":85},{"time":1784,"acc":60},{"time":1785,"acc":66.6},{"time":1787,"acc":45},{"time":1789,"acc":35},{"time":1791,"acc":28},{"time":1792.9,"acc":22},{"time":1795,"acc":16},{"time":1797,"acc":19},{"time":1800,"acc":14},
      {"time":1803,"acc":10},{"time":1806,"acc":15},{"time":1809,"acc":8},{"time":1812,"acc":13},{"time":1815,"acc":9.5},{"time":1818,"acc":16},{"time":1821,"acc":11},{"time":1824,"acc":8.3},{"time":1827,"acc":14.5},{"time":1830,"acc":9.6},{"time":1833,"acc":12.8},{"time":1836,"acc":7.9},{"time":1839,"acc":15.5},{"time":1842,"acc":10.2},{"time":1845,"acc":13},{"time":1848,"acc":8.7},{"time":1851,"acc":17},{"time":1854,"acc":11},{"time":1857,"acc":9},{"time":1860,"acc":12.5},{"time":1863,"acc":7.5},{"time":1866,"acc":11},
      {"time":1869,"acc":18},{"time":1872.4,"acc":22},{"time":1874.7,"acc":30},{"time":1876.5,"acc":24},{"time":1878.5,"acc":26},{"time":1881,"acc":18},{"time":1884.7,"acc":21},{"time":1887,"acc":14},{"time":1890,"acc":16},{"time":1893,"acc":10},{"time":1896,"acc":12},
      {"time":1900,"acc":9.4},{"time":1905,"acc":11.2},{"time":1910,"acc":9.6},{"time":1916,"acc":10.9},{"time":1922,"acc":9.2},{"time":1928,"acc":11},{"time":1934,"acc":9.8},{"time":1940,"acc":10.8},{"time":1946,"acc":9.5},{"time":1952,"acc":10.9},{"time":1958,"acc":9.9},{"time":1964,"acc":10.6},{"time":1970,"acc":9.6},{"time":1976,"acc":10.8},{"time":1982,"acc":9.7},{"time":1988,"acc":10.5},{"time":1994,"acc":9.9},{"time":2000,"acc":10.6},{"time":2006,"acc":9.5},{"time":2012,"acc":10.8},{"time":2018,"acc":9.4},{"time":2022,"acc":11.5},
      {"time":2026,"acc":13},{"time":2030,"acc":8.5},{"time":2034,"acc":12},{"time":2038,"acc":9},{"time":2042,"acc":15},{"time":2045,"acc":11},{"time":2048.4,"acc":20},{"time":2050.5,"acc":16},{"time":2052.4,"acc":25},{"time":2054,"acc":21},{"time":2056.1,"acc":30.5},{"time":2058,"acc":24},{"time":2059.4,"acc":22},{"time":2061,"acc":18},{"time":2063.2,"acc":25},{"time":2065,"acc":17},{"time":2067.1,"acc":14},{"time":2070,"acc":11},{"time":2073.4,"acc":12},{"time":2077,"acc":9.3},
      {"time":2082,"acc":10.6},{"time":2088,"acc":9.6},{"time":2094,"acc":10.5},{"time":2100,"acc":9.8},{"time":2106,"acc":10.4},{"time":2112,"acc":9.7},{"time":2118,"acc":10.5},{"time":2124,"acc":9.9},{"time":2130,"acc":10.3},{"time":2136,"acc":9.7},{"time":2142,"acc":10.4},{"time":2148,"acc":9.8},{"time":2154,"acc":10.6},{"time":2160,"acc":9.4},{"time":2164,"acc":11.8},{"time":2167,"acc":8.5},{"time":2170,"acc":14},{"time":2172,"acc":7},{"time":2174,"acc":12.5},{"time":2177,"acc":8.8},{"time":2180,"acc":11.7},{"time":2184,"acc":9.2},{"time":2188,"acc":11},{"time":2192,"acc":9.5},{"time":2196,"acc":10.9},{"time":2200,"acc":9.6},{"time":2204,"acc":11.2},{"time":2208,"acc":9.3},{"time":2212,"acc":11.5},{"time":2216,"acc":9},{"time":2220,"acc":12},{"time":2224,"acc":9.8},{"time":2228,"acc":11.3},{"time":2232,"acc":8.8},{"time":2236,"acc":12.4},{"time":2240,"acc":9.5},
      {"time":2243.3,"acc":15},{"time":2246,"acc":11},{"time":2248.8,"acc":13},{"time":2251,"acc":9.5},{"time":2254,"acc":14},{"time":2256.5,"acc":18},{"time":2259,"acc":15},{"time":2261.9,"acc":25},{"time":2264,"acc":20},{"time":2266,"acc":30},{"time":2268.2,"acc":36.2},{"time":2270,"acc":33},{"time":2272.1,"acc":32},{"time":2274,"acc":27},{"time":2275.9,"acc":25},{"time":2278,"acc":18},{"time":2281.6,"acc":20},{"time":2284,"acc":14},{"time":2287.6,"acc":12},{"time":2291,"acc":9.5},
      {"time":2294,"acc":11.6},{"time":2297,"acc":9.1},{"time":2300,"acc":12},{"time":2303,"acc":9.5},{"time":2306,"acc":11.3},{"time":2309,"acc":8.9},{"time":2312,"acc":11.8},{"time":2315,"acc":9.7},{"time":2318,"acc":10.9},{"time":2321,"acc":9.2},{"time":2324,"acc":11.5},{"time":2327,"acc":9.9},{"time":2330,"acc":10.7},{"time":2333,"acc":9.3},{"time":2336,"acc":11.2},{"time":2339,"acc":9.6},{"time":2342,"acc":10.9},{"time":2345,"acc":9.4},{"time":2348,"acc":11.1},{"time":2351,"acc":9.8},{"time":2354,"acc":10.6},{"time":2357,"acc":9.3},{"time":2360,"acc":11},{"time":2363,"acc":9.7},{"time":2366,"acc":10.8},{"time":2369,"acc":9.5},{"time":2372,"acc":10.6},{"time":2375,"acc":9.9},{"time":2378,"acc":10.4},{"time":2381,"acc":9.2},{"time":2384,"acc":10.3},{"time":2387,"acc":9.4},{"time":2390,"acc":10.1},{"time":2393,"acc":9.2},{"time":2396,"acc":9.8},{"time":2400,"acc":9.3}
    ]
  },
  "vconcat": [
    {
      "width": 1129,
      "height": 283,
      "title": {"text": "Indicated steps for leg1 of turkey 010", "font": "DejaVu Sans", "fontSize": 15, "fontWeight": "bold", "color": "#000", "anchor": "middle", "offset": 2},
      "layer": [
        {
          "data": {"name": "leg1_acc"},
          "mark": {"type": "line", "color": "#d9412f", "strokeWidth": 2.5, "strokeJoin": "round"},
          "encoding": {
            "x": {"field": "time", "type": "quantitative", "scale": {"domain": [-120, 2520], "nice": false, "zero": false},
                  "axis": {"values": [0, 500, 1000, 1500, 2000, 2500], "labels": false, "title": null, "grid": true}},
            "y": {"field": "acc", "type": "quantitative", "scale": {"domain": [-6.5, 136.5], "nice": false, "zero": false},
                  "axis": {"values": [0, 20, 40, 60, 80, 100, 120], "title": "Acc magnitude (m/s²)", "labelColor": "#ff0000", "titleColor": "#ff0000", "labelPadding": 3.5, "titlePadding": 6, "grid": true}}
          }
        },
        {
          "data": {"name": "leg1_steps"},
          "mark": {"type": "line", "color": "#000000", "strokeWidth": 2.4, "interpolate": "step-after"},
          "encoding": {
            "x": {"field": "time", "type": "quantitative"},
            "y": {"field": "value", "type": "quantitative"},
            "strokeDash": {"field": "series", "type": "nominal",
              "scale": {"domain": ["Denoted", "Based on CPD"], "range": [[10, 5], [1, 0]]},
              "legend": {"title": "Steps", "orient": "top-right", "offset": 7, "titleFont": "DejaVu Sans", "titleFontSize": 13, "titleFontWeight": "bold", "titleAnchor": "middle", "titleColor": "#000", "titlePadding": 0, "labelFont": "DejaVu Sans", "labelFontSize": 13, "labelColor": "#000", "labelOffset": 6, "symbolType": "stroke", "symbolSize": 729, "symbolStrokeWidth": 2.4, "symbolStrokeColor": "#000", "strokeColor": "#d4d4d4", "fillColor": "#ffffff", "cornerRadius": 3, "padding": 6, "rowPadding": -2}}
          }
        }
      ]
    },
    {
      "width": 1129,
      "height": 284,
      "title": {"text": "Indicated steps for leg2 of turkey 010", "font": "DejaVu Sans", "fontSize": 15, "fontWeight": "bold", "color": "#000", "anchor": "middle", "offset": -345.5},
      "layer": [
        {
          "data": {"name": "leg2_acc"},
          "mark": {"type": "line", "color": "#d9412f", "strokeWidth": 2.5, "strokeJoin": "round"},
          "encoding": {
            "x": {"field": "time", "type": "quantitative", "scale": {"domain": [-120, 2520], "nice": false, "zero": false},
                  "axis": {"values": [0, 500, 1000, 1500, 2000, 2500], "format": "d", "title": "Time (s/100)", "labelPadding": 2.5, "titlePadding": 3, "grid": true}},
            "y": {"field": "acc", "type": "quantitative", "scale": {"domain": [-6.35, 133.35], "nice": false, "zero": false},
                  "axis": {"values": [0, 20, 40, 60, 80, 100, 120], "title": "Acc magnitude (m/s²)", "labelColor": "#ff0000", "titleColor": "#ff0000", "labelPadding": 3.5, "titlePadding": 6, "grid": true}}
          }
        },
        {
          "data": {"name": "leg2_steps"},
          "mark": {"type": "line", "color": "#000000", "strokeWidth": 2.4, "interpolate": "step-after"},
          "encoding": {
            "x": {"field": "time", "type": "quantitative"},
            "y": {"field": "value", "type": "quantitative"},
            "strokeDash": {"field": "series", "type": "nominal",
              "scale": {"domain": ["Denoted", "Based on CPD"], "range": [[10, 5], [1, 0]]},
              "legend": null}
          }
        },
        {
          "data": {"values": [{}]},
          "mark": {"type": "rule", "color": "#555555", "strokeWidth": 1},
          "encoding": {"x": {"datum": -427.0}, "y": {"datum": 304.04}, "y2": {"datum": -70.54}}
        },
        {
          "data": {"values": [{}]},
          "mark": {"type": "rule", "color": "#555555", "strokeWidth": 1},
          "encoding": {"x": {"datum": 2725.1}, "y": {"datum": 304.04}, "y2": {"datum": -70.54}}
        },
        {
          "data": {"values": [{}]},
          "mark": {"type": "rule", "color": "#555555", "strokeWidth": 1},
          "encoding": {"x": {"datum": -427.0}, "x2": {"datum": 2725.1}, "y": {"datum": 304.04}}
        },
        {
          "data": {"values": [{}]},
          "mark": {"type": "text", "font": "Liberation Sans", "fontSize": 18.3, "fontWeight": "bold", "align": "left", "baseline": "alphabetic", "color": "#231f20"},
          "encoding": {"x": {"datum": -387.3}, "y": {"datum": -49.4}, "text": {"value": "FIGURE 1 |"}}
        },
        {
          "data": {"values": [{}]},
          "mark": {"type": "text", "font": "Liberation Sans", "fontSize": 18.3, "fontWeight": "normal", "align": "left", "baseline": "alphabetic", "color": "#231f20"},
          "encoding": {"x": {"datum": -151}, "y": {"datum": -49.4}, "text": {"value": "Results of CPD step segmentation for turkey 010 (solid black line) for leg 1 (upper plot) and 2 (lower plot). Acceleration magnitude is plotted in red;"}}
        },
        {
          "data": {"values": [{}]},
          "mark": {"type": "text", "font": "Liberation Sans", "fontSize": 18.3, "fontWeight": "normal", "align": "left", "baseline": "alphabetic", "color": "#231f20"},
          "encoding": {"x": {"datum": -387.3}, "y": {"datum": -63.9}, "text": {"value": "dashed black line depicts manually labeled steps."}}
        }
      ]
    }
  ],
  "resolve": {"scale": {"x": "independent", "y": "independent", "strokeDash": "independent"}, "legend": {"strokeDash": "independent"}},
  "config": {
    "font": "DejaVu Sans",
    "view": {"stroke": "#404040", "strokeWidth": 1},
    "axis": {
      "domain": false,
      "grid": true,
      "gridColor": "#c6c6c6",
      "gridWidth": 1,
      "tickColor": "#000000",
      "tickSize": 4,
      "tickWidth": 1,
      "labelFont": "DejaVu Sans",
      "labelFontSize": 14,
      "labelColor": "#000000",
      "titleFont": "DejaVu Sans",
      "titleFontSize": 16.8,
      "titleFontWeight": "normal",
      "titleColor": "#000000"
    }
  }
}
